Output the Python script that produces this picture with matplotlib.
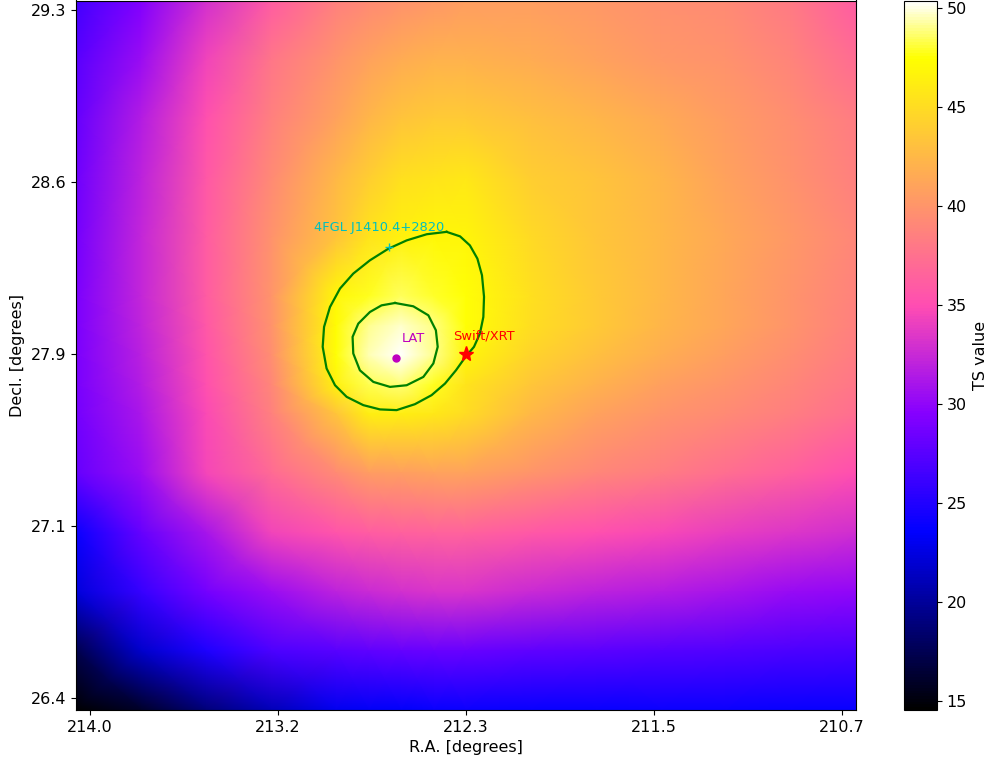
import numpy as np
import matplotlib
matplotlib.use("Agg")
import matplotlib.pyplot as plt

# TS values at the grid nodes below
# rows: top (Dec 29.34) -> bottom (Dec 26.35); columns: left (RA 214.06) -> right (RA 210.64)
ra_nodes = [214.061, 213.776, 213.491, 213.206, 212.922, 212.779, 212.637, 212.494,
            212.352, 212.067, 211.782, 211.498, 211.213, 210.928, 210.643]
dec_nodes = [29.342, 29.093, 28.845, 28.592, 28.343, 28.094, 27.970, 27.846,
             27.721, 27.597, 27.348, 27.095, 26.847, 26.598, 26.349]
ts_rows = [
    [26.5, 29.3, 33.0, 36.0, 38.5, 39.2, 39.8, 40.3, 40.7, 40.7, 40.2, 39.7, 39.3, 38.2, 36.0],
    [27.5, 30.5, 34.3, 37.8, 40.0, 41.0, 41.7, 42.0, 42.0, 41.7, 41.0, 40.3, 39.8, 38.8, 37.2],
    [28.0, 31.5, 35.2, 38.5, 41.0, 42.3, 43.3, 43.7, 43.8, 43.0, 42.3, 41.5, 40.5, 39.5, 38.3],
    [28.5, 32.0, 35.8, 39.2, 42.5, 44.0, 45.3, 45.5, 45.8, 44.0, 43.3, 42.3, 41.0, 39.8, 38.5],
    [28.8, 32.3, 36.0, 39.8, 43.3, 45.5, 46.5, 47.0, 46.8, 44.8, 43.5, 42.5, 41.3, 40.2, 39.0],
    [29.0, 32.3, 36.0, 40.0, 47.0, 47.8, 48.5, 48.0, 47.5, 45.3, 43.8, 42.5, 41.2, 40.0, 38.7],
    [29.0, 32.1, 35.8, 39.8, 47.2, 49.1, 49.8, 48.9, 47.5, 45.2, 43.7, 42.4, 41.2, 40.0, 38.6],
    [29.0, 31.8, 35.5, 39.5, 47.5, 49.5, 50.4, 49.0, 46.8, 44.5, 43.0, 41.8, 40.6, 39.5, 38.3],
    [28.9, 31.5, 35.2, 39.0, 46.5, 48.3, 48.8, 47.8, 45.5, 43.5, 42.0, 40.8, 40.0, 39.0, 37.8],
    [28.8, 31.2, 34.8, 38.5, 43.3, 46.2, 46.3, 45.8, 45.0, 42.5, 41.0, 40.0, 39.3, 38.4, 37.3],
    [28.0, 30.5, 34.5, 37.0, 39.3, 40.5, 40.7, 41.0, 41.0, 40.0, 39.0, 38.3, 37.3, 36.3, 35.0],
    [24.0, 28.0, 31.0, 34.3, 35.5, 36.0, 36.3, 36.5, 36.5, 35.8, 35.2, 34.6, 34.0, 33.4, 32.8],
    [22.3, 26.0, 28.8, 30.5, 32.0, 32.5, 33.0, 33.2, 33.2, 32.5, 32.0, 31.5, 31.0, 30.3, 30.0],
    [17.3, 21.7, 24.8, 27.0, 27.5, 27.8, 28.0, 28.2, 28.2, 27.8, 27.6, 27.3, 27.2, 27.0, 26.8],
    [14.55, 16.0, 18.8, 21.0, 23.0, 23.3, 23.5, 23.8, 24.0, 23.9, 23.9, 24.0, 24.0, 23.9, 23.8],
]

# contour outlines (R.A., Decl.)
outer_ra = [212.437, 212.378, 212.335, 212.302, 212.282, 212.273, 212.276, 212.291,
            212.317, 212.354, 212.396, 212.444, 212.503, 212.576, 212.656, 212.729,
            212.802, 212.875, 212.926, 212.963, 212.980, 212.974, 212.948, 212.904,
            212.846, 212.773, 212.692, 212.612, 212.524]
outer_dec = [28.366, 28.347, 28.309, 28.253, 28.183, 28.092, 28.007, 27.937,
             27.881, 27.839, 27.782, 27.726, 27.677, 27.639, 27.614, 27.617,
             27.635, 27.670, 27.719, 27.790, 27.881, 27.965, 28.049, 28.127,
             28.190, 28.246, 28.295, 28.330, 28.356]
inner_ra = [212.663, 212.583, 212.517, 212.484, 212.476, 212.495, 212.539, 212.612,
            212.685, 212.758, 212.817, 212.846, 212.849, 212.824, 212.773, 212.722]
inner_dec = [28.066, 28.052, 28.014, 27.951, 27.881, 27.811, 27.754, 27.719,
             27.712, 27.733, 27.782, 27.853, 27.923, 27.979, 28.028, 28.056]

# sources
lat_pos = (212.658, 27.834)
xrt_pos = (212.354, 27.850)
fgl_pos = (212.688, 28.302)

xtick_vals = [214.0, 213.176, 212.352, 211.529, 210.705]
xtick_labels = ["214.0", "213.2", "212.3", "211.5", "210.7"]
ytick_vals = [29.3, 28.575, 27.85, 27.125, 26.4]
ytick_labels = ["29.3", "28.6", "27.9", "27.1", "26.4"]

ts = np.array(ts_rows)

fig = plt.figure(figsize=(9.96, 7.67), dpi=100)
ax = fig.add_axes([76 / 996, 57 / 767, 780 / 996, 709.5 / 767])
cax = fig.add_axes([904 / 996, 57 / 767, 33 / 996, 709.5 / 767])

mesh = ax.pcolormesh(ra_nodes, dec_nodes, ts, shading="gouraud", cmap="gnuplot2",
                     vmin=ts.min(), vmax=ts.max())
ax.set_xlim(ra_nodes[0], ra_nodes[-1])
ax.set_ylim(dec_nodes[-1], dec_nodes[0])

ax.plot(outer_ra + outer_ra[:1], outer_dec + outer_dec[:1], color="g", lw=1.6)
ax.plot(inner_ra + inner_ra[:1], inner_dec + inner_dec[:1], color="g", lw=1.6)

ax.plot(*lat_pos, "o", color="m", ms=5)
ax.text(212.634, 27.900, "LAT", color="m", fontsize=9.4)
ax.plot(*xrt_pos, "*", color="r", ms=11)
ax.text(212.408, 27.913, "Swift/XRT", color="r", fontsize=9.4)
ax.plot(*fgl_pos, "+", color="c", ms=6, mew=1)
ax.text(213.018, 28.368, "4FGL J1410.4+2820", color="c", fontsize=9.4)

ax.set_xticks(xtick_vals)
ax.set_xticklabels(xtick_labels)
ax.set_yticks(ytick_vals)
ax.set_yticklabels(ytick_labels)
ax.tick_params(labelsize=11.5)
ax.set_xlabel("R.A. [degrees]", fontsize=11.5)
ax.set_ylabel("Decl. [degrees]", fontsize=11.5)

cbar = fig.colorbar(mesh, cax=cax, ticks=[15, 20, 25, 30, 35, 40, 45, 50])
cbar.ax.tick_params(labelsize=11.5)
cbar.set_label("TS value", fontsize=11.5)

fig.savefig("out.png", dpi=100)
